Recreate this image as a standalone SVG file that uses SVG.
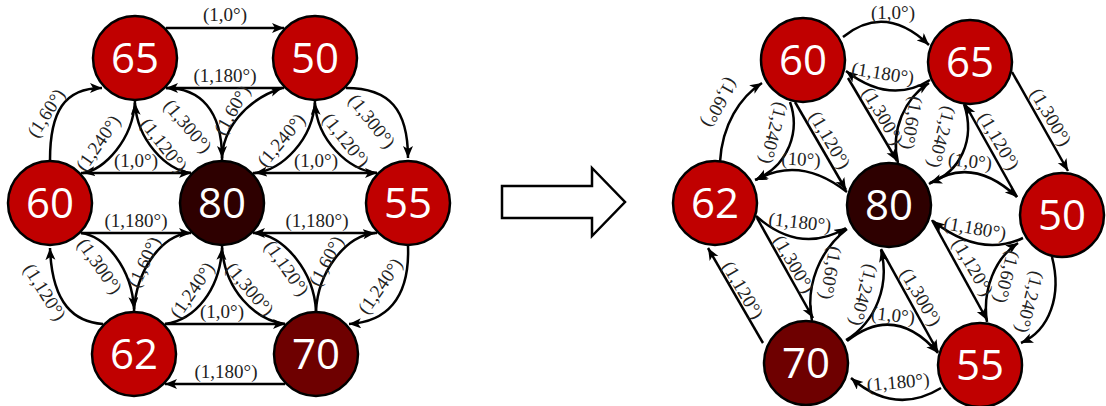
<svg xmlns="http://www.w3.org/2000/svg" width="1106" height="406" viewBox="0 0 1106 406">
  <style>
    .edge { fill: none; stroke: #000; stroke-width: 2.5; }
    .arr { marker-end: url(#head); }
    .node circle { stroke: #000; stroke-width: 2.5; }
    .red { fill: #C00000; }
    .dark { fill: #2E0000; }
    .maroon { fill: #6E0000; }
    .num { font-family: "Open Sans", "Liberation Sans", sans-serif; font-size: 42px; fill: #fff; text-anchor: middle; }
    .lbl { font-family: "Liberation Serif", "DejaVu Serif", serif; font-size: 19px; fill: #222; text-anchor: middle; dominant-baseline: central; }
  </style>
  <defs>
    <marker id="head" markerUnits="userSpaceOnUse" markerWidth="13" markerHeight="11" refX="12" refY="5" orient="auto">
      <path d="M0,0 L12,5 L0,10 L3,5 z" fill="#000"/>
    </marker>
  </defs>
  <rect width="1106" height="406" fill="#fff"/>

  <!-- ===== Left graph: connectors ===== -->
  <g id="left-connectors">
    <!-- straight pairs -->
    <path class="edge arr" d="M166,28 L284,28"/>
    <path class="edge arr" d="M284,88 L166,88"/>
    <path class="edge arr" d="M81,173 L191,173"/>
    <path class="edge arr" d="M81,233 L191,233"/>
    <path class="edge arr" d="M253,173 L377,173"/>
    <path class="edge arr" d="M377,233 L253,233"/>
    <path class="edge arr" d="M165,324 L285,324"/>
    <path class="edge arr" d="M285,384 L165,384"/>
    <!-- curved pairs -->
    <path class="edge arr" d="M50,160 C50,112 64,88 102,88"/>
    <path class="edge arr" d="M135,101 C133,140 104,170 83,173"/>
    <path class="edge arr" d="M191,173 C166,170 137,140 135,103"/>
    <path class="edge arr" d="M166,88 C200,88 222,110 222,158"/>
    <path class="edge arr" d="M222,160 C222,130 245,100 282,88"/>
    <path class="edge arr" d="M315,101 C313,140 282,170 255,173"/>
    <path class="edge arr" d="M377,173 C348,170 317,140 315,103"/>
    <path class="edge arr" d="M346,88 C390,88 408,110 408,158"/>
    <path class="edge arr" d="M81,233 C105,236 132,268 134,309"/>
    <path class="edge" d="M134,311 C136,272 160,236 189,233"/>
    <path class="edge arr" d="M103,324 C75,322 52,305 50,248"/>
    <path class="edge arr" d="M165,324 C195,320 220,290 222,248"/>
    <path class="edge" d="M222,246 C224,290 255,320 285,324"/>
    <path class="edge" d="M316,311 C314,272 285,236 255,233"/>
    <path class="edge arr" d="M316,311 C318,272 345,236 375,233"/>
    <path class="edge arr" d="M408,246 C410,300 385,322 349,324"/>
  </g>
  <g id="left-labels">
    <text class="lbl" transform="translate(225,14)">(1,0°)</text>
    <text class="lbl" transform="translate(225,75)">(1,180°)</text>
    <text class="lbl" transform="translate(136,160)">(1,0°)</text>
    <text class="lbl" transform="translate(136,220)">(1,180°)</text>
    <text class="lbl" transform="translate(316,160)">(1,0°)</text>
    <text class="lbl" transform="translate(317,220)">(1,180°)</text>
    <text class="lbl" transform="translate(222,311)">(1,0°)</text>
    <text class="lbl" transform="translate(226,371)">(1,180°)</text>
    <text class="lbl" transform="translate(46,113) rotate(-57)">(1,60°)</text>
    <text class="lbl" transform="translate(98,143) rotate(-55)">(1,240°)</text>
    <text class="lbl" transform="translate(164,145) rotate(52)">(1,120°)</text>
    <text class="lbl" transform="translate(188,126) rotate(50)">(1,300°)</text>
    <text class="lbl" transform="translate(232,110) rotate(-60)">(1,60°)</text>
    <text class="lbl" transform="translate(281,140) rotate(-50)">(1,240°)</text>
    <text class="lbl" transform="translate(346,140) rotate(52)">(1,120°)</text>
    <text class="lbl" transform="translate(372,121) rotate(52)">(1,300°)</text>
    <text class="lbl" transform="translate(100,266) rotate(55)">(1,300°)</text>
    <text class="lbl" transform="translate(144,262) rotate(-65)">(1,60°)</text>
    <text class="lbl" transform="translate(45,292) rotate(58)">(1,120°)</text>
    <text class="lbl" transform="translate(192,290) rotate(-55)">(1,240°)</text>
    <text class="lbl" transform="translate(250,289) rotate(50)">(1,300°)</text>
    <text class="lbl" transform="translate(287,268) rotate(55)">(1,120°)</text>
    <text class="lbl" transform="translate(326,261) rotate(-62)">(1,60°)</text>
    <text class="lbl" transform="translate(380,286) rotate(-55)">(1,240°)</text>
  </g>

  <!-- ===== Left graph: nodes ===== -->
  <g id="L65" class="node"><circle class="red" cx="135" cy="58" r="42"/><text class="num" x="135" y="73">65</text></g>
  <g id="L50" class="node"><circle class="red" cx="315" cy="58" r="42"/><text class="num" x="315" y="73">50</text></g>
  <g id="L60" class="node"><circle class="red" cx="50" cy="203" r="42"/><text class="num" x="50" y="218">60</text></g>
  <g id="L80" class="node"><circle class="dark" cx="222" cy="203" r="42"/><text class="num" x="222" y="218">80</text></g>
  <g id="L55" class="node"><circle class="red" cx="408" cy="203" r="42"/><text class="num" x="408" y="218">55</text></g>
  <g id="L62" class="node"><circle class="red" cx="134" cy="354" r="42"/><text class="num" x="134" y="369">62</text></g>
  <g id="L70" class="node"><circle class="maroon" cx="316" cy="354" r="42"/><text class="num" x="316" y="369">70</text></g>

  <!-- ===== Block arrow between the graphs ===== -->
  <g id="transform-arrow">
    <polygon points="502,186 592,186 592,168 625,202 592,236 592,218 502,218" fill="#fff" stroke="#000" stroke-width="2.5" stroke-linejoin="miter"/>
  </g>

  <!-- ===== Right graph: connectors ===== -->
  <g id="right-connectors">
    <path class="edge arr" d="M843,37 Q885,3 929,45"/>
    <path class="edge arr" d="M930,80 Q890,105 846,71"/>
    <path class="edge arr" d="M720,162 C722,125 740,97 762,83"/>
    <path class="edge arr" d="M790,102 C800,130 790,165 755,180"/>
    <path class="edge arr" d="M795,102 L846,190"/>
    <path class="edge arr" d="M848,78 L897,161"/>
    <path class="edge arr" d="M898,163 C890,130 905,98 929,83"/>
    <path class="edge arr" d="M964,104 C976,140 960,172 930,183"/>
    <path class="edge arr" d="M1017,197 L965,104"/>
    <path class="edge arr" d="M1012,72 L1068,171"/>
    <path class="edge arr" d="M847,192 Q800,155 756,180"/>
    <path class="edge arr" d="M756,216 Q800,255 846,228"/>
    <path class="edge arr" d="M929,184 Q972,155 1017,197"/>
    <path class="edge arr" d="M1023,238 Q980,258 933,221"/>
    <path class="edge arr" d="M881,249 L938,352"/>
    <path class="edge arr" d="M932,220 L987,320"/>
    <path class="edge arr" d="M987,322 C982,290 995,258 1018,243"/>
    <path class="edge arr" d="M1052,257 C1062,295 1050,330 1021,343"/>
    <path class="edge arr" d="M763,343 L708,248"/>
    <path class="edge arr" d="M757,218 L813,318"/>
    <path class="edge" d="M812,321 C805,285 820,250 847,229"/>
    <path class="edge arr" d="M846,340 C876,322 890,285 881,250"/>
    <path class="edge arr" d="M847,341 Q895,303 938,353"/>
    <path class="edge arr" d="M941,388 Q895,416 851,378"/>
  </g>
  <g id="right-labels">
    <text class="lbl" transform="translate(893,12)">(1,0°)</text>
    <text class="lbl" transform="translate(883,73) rotate(9)">(1,180°)</text>
    <text class="lbl" transform="translate(720,103) rotate(120)">(1,60°)</text>
    <text class="lbl" transform="translate(774,133) rotate(105)">(1,240°)</text>
    <text class="lbl" transform="translate(830,140) rotate(60)">(1,120°)</text>
    <text class="lbl" transform="translate(883,116) rotate(60)">(1,300°)</text>
    <text class="lbl" transform="translate(912,123) rotate(100)">(1,60°)</text>
    <text class="lbl" transform="translate(942,137) rotate(105)">(1,240°)</text>
    <text class="lbl" transform="translate(999,141) rotate(60)">(1,120°)</text>
    <text class="lbl" transform="translate(1051,117) rotate(60)">(1,300°)</text>
    <text class="lbl" transform="translate(801,159) rotate(3)">(10°)</text>
    <text class="lbl" transform="translate(800,222) rotate(6)">(1,180°)</text>
    <text class="lbl" transform="translate(970,161) rotate(6)">(1,0°)</text>
    <text class="lbl" transform="translate(975,228) rotate(10)">(1,180°)</text>
    <text class="lbl" transform="translate(921,297) rotate(60)">(1,300°)</text>
    <text class="lbl" transform="translate(973,267) rotate(60)">(1,120°)</text>
    <text class="lbl" transform="translate(1007,277) rotate(105)">(1,60°)</text>
    <text class="lbl" transform="translate(1030,302) rotate(105)">(1,240°)</text>
    <text class="lbl" transform="translate(743,290) rotate(60)">(1,120°)</text>
    <text class="lbl" transform="translate(794,264) rotate(60)">(1,300°)</text>
    <text class="lbl" transform="translate(831,273) rotate(100)">(1,60°)</text>
    <text class="lbl" transform="translate(864,295) rotate(105)">(1,240°)</text>
    <text class="lbl" transform="translate(893,315) rotate(6)">(1,0°)</text>
    <text class="lbl" transform="translate(898,382) rotate(-5)">(1,180°)</text>
  </g>

  <!-- ===== Right graph: nodes ===== -->
  <g id="R60" class="node"><circle class="red" cx="803" cy="60" r="42"/><text class="num" x="803" y="75">60</text></g>
  <g id="R65" class="node"><circle class="red" cx="970" cy="62" r="42"/><text class="num" x="970" y="77">65</text></g>
  <g id="R62" class="node"><circle class="red" cx="715" cy="203" r="42"/><text class="num" x="715" y="218">62</text></g>
  <g id="R80" class="node"><circle class="dark" cx="889" cy="205" r="42"/><text class="num" x="889" y="220">80</text></g>
  <g id="R50" class="node"><circle class="red" cx="1062" cy="215" r="42"/><text class="num" x="1062" y="230">50</text></g>
  <g id="R70" class="node"><circle class="maroon" cx="806" cy="363" r="42"/><text class="num" x="806" y="378">70</text></g>
  <g id="R55" class="node"><circle class="red" cx="980" cy="365" r="42"/><text class="num" x="980" y="380">55</text></g>
</svg>
